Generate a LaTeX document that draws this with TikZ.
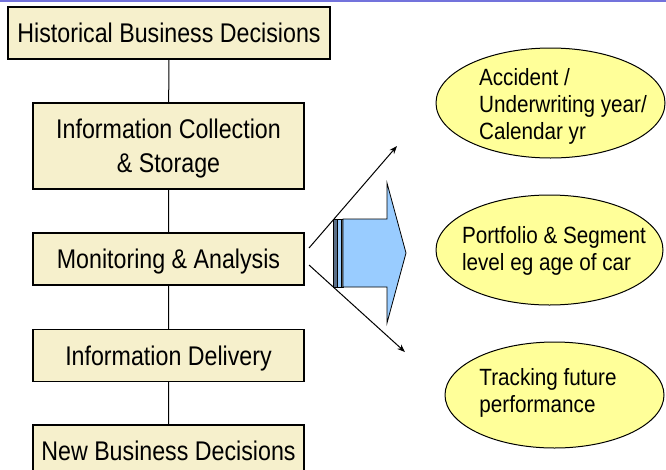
\documentclass[tikz,border=0pt]{standalone}
\usepackage{fontspec}
\setmainfont{Liberation Sans}[FakeStretch=0.88]
\newfontfamily\stagefont{Liberation Sans}[FakeStretch=0.86]
\usetikzlibrary{shapes.geometric,arrows.meta}

\definecolor{boxfill}{RGB}{246,240,204}
\definecolor{ovalfill}{RGB}{255,255,153}
\definecolor{arrowblue}{RGB}{153,204,255}
\definecolor{stripedark}{RGB}{90,110,135}
\definecolor{topline}{RGB}{115,115,220}

\tikzset{
  stage/.style={draw, fill=boxfill, line width=1.3pt, minimum width=271pt,
    minimum height=52pt, inner sep=0pt, align=center, text depth=0pt,
    font=\stagefont\fontsize{27}{34}\selectfont},
  oval/.style={draw, ellipse, fill=ovalfill, line width=1pt, inner sep=0pt},
  ovaltext/.style={align=left, inner sep=0pt, font=\fontsize{23.5}{27}\selectfont},
  link/.style={line width=1pt},
  fan/.style={line width=1pt, -{Stealth[length=8pt,width=6pt]}},
}

\begin{document}
\begin{tikzpicture}[x=1pt,y=-1pt]
                \useasboundingbox (0,0) rectangle (666,469);
                \clip (0,0) rectangle (666,469);
                \draw[topline, line width=2pt] (0,1) -- (666,1);

                \node [stage, minimum width=322pt] (hist) at (169,33) {Historical Business Decisions};
                \node [stage, minimum height=86pt] (coll) at (168.5,146) {Information Collection\\\& Storage};
                \node [stage] (mon) at (168.5,259) {Monitoring \& Analysis};
                \node [stage] (deliv) at (168.5,355.5) {Information Delivery};
                \node [stage] (newdec) at (168.5,451) {New Business Decisions};

                \draw[link] (hist) -- (coll) -- (mon) -- (deliv) -- (newdec);

                % striped block arrow
                \filldraw[fill=stripedark, line width=0.6pt] (333,219) rectangle (337,287);
                \filldraw[fill=arrowblue, line width=0.6pt] (337,219) rectangle (341,287);
                \filldraw[fill=gray, line width=0.6pt] (341,219) rectangle (343,287);
                \filldraw[fill=arrowblue, line width=0.8pt] (343,219) -- (387,219) -- (387,183)
                        -- (406,253) -- (387,323) -- (387,287) -- (343,287) -- cycle;

                \coordinate (up0) at (309,248);
                \coordinate (up1) at (397,146);
                \coordinate (dn0) at (309,265);
                \coordinate (dn1) at (405,352);
                \draw[fan] (up0) -- (up1);
                \draw[fan] (dn0) -- (dn1);

                \node [oval, minimum width=229pt, minimum height=110pt] (year) at (550.5,103) {};
                \node [ovaltext] (yeartext) at (563,106) {Accident /\\Underwriting year/\\Calendar yr};

                \node [oval, minimum width=227pt, minimum height=110pt] (segm) at (549.5,250) {};
                \node [ovaltext] (segmtext) at (554,250.5) {Portfolio \& Segment\\level eg age of car};

                \node [oval, minimum width=219pt, minimum height=106pt] (track) at (554.5,395) {};
                \node [ovaltext] (tracktext) at (548,392.5) {Tracking future\\performance};
                \end{tikzpicture}
\end{document}
